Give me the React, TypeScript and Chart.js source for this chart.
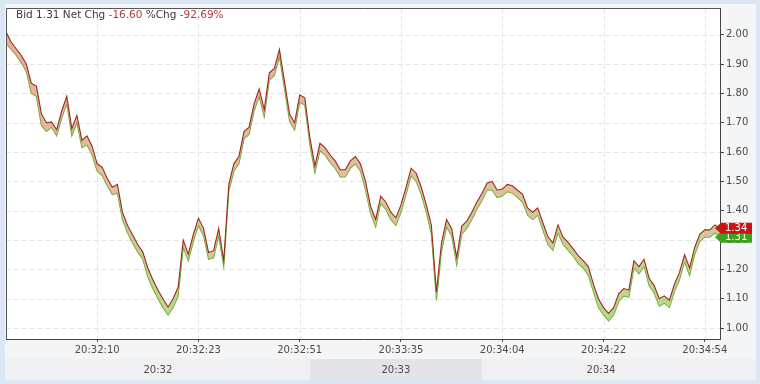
import React, { useEffect, useRef } from "react";
import { Chart, registerables } from "chart.js";

Chart.register(...registerables);

// Ask (upper, red) and Bid (lower, green) prices, one value per sample
const askValues = [
  2.01, 1.975, 1.952, 1.93, 1.9, 1.835, 1.825, 1.73, 1.7, 1.703,
  1.676, 1.74, 1.79, 1.68, 1.725, 1.64, 1.655, 1.62, 1.56, 1.548,
  1.51, 1.48, 1.49, 1.395, 1.35, 1.318, 1.285, 1.26, 1.205, 1.165,
  1.13, 1.1, 1.072, 1.1, 1.14, 1.3, 1.252, 1.32, 1.375, 1.34,
  1.258, 1.264, 1.34, 1.23, 1.49, 1.56, 1.585, 1.67, 1.685, 1.765,
  1.815, 1.745, 1.87, 1.885, 1.95, 1.84, 1.73, 1.7, 1.795, 1.785,
  1.65, 1.553, 1.63, 1.615, 1.59, 1.57, 1.54, 1.54, 1.57, 1.585,
  1.56, 1.5, 1.415, 1.37, 1.45, 1.43, 1.395, 1.376, 1.42, 1.48,
  1.545, 1.528, 1.48, 1.421, 1.35, 1.123, 1.29, 1.37, 1.34, 1.241,
  1.348, 1.365, 1.395, 1.43, 1.46, 1.494, 1.5, 1.47, 1.474, 1.49,
  1.485, 1.47, 1.457, 1.41, 1.395, 1.41, 1.36, 1.312, 1.29, 1.352,
  1.31, 1.292, 1.27, 1.247, 1.23, 1.21, 1.15, 1.1, 1.07, 1.05,
  1.07, 1.118, 1.135, 1.13, 1.23, 1.21, 1.235, 1.17, 1.145, 1.1,
  1.11, 1.095, 1.15, 1.19, 1.25, 1.205, 1.275, 1.32, 1.335, 1.335,
  1.352, 1.34,
];

const bidValues = [
  1.97, 1.95, 1.93, 1.905, 1.875, 1.8, 1.79, 1.69, 1.67, 1.685,
  1.655, 1.715, 1.765, 1.655, 1.7, 1.615, 1.625, 1.59, 1.535, 1.52,
  1.485, 1.455, 1.46, 1.37, 1.325, 1.29, 1.26, 1.235, 1.175, 1.135,
  1.1, 1.07, 1.045, 1.07, 1.11, 1.275, 1.23, 1.295, 1.35, 1.315,
  1.235, 1.24, 1.315, 1.21, 1.465, 1.535, 1.56, 1.645, 1.66, 1.74,
  1.79, 1.72, 1.845, 1.86, 1.925, 1.815, 1.705, 1.675, 1.77, 1.76,
  1.625, 1.53, 1.605, 1.59, 1.565, 1.545, 1.515, 1.515, 1.545, 1.56,
  1.535, 1.47, 1.39, 1.345, 1.425, 1.405, 1.37, 1.35, 1.395, 1.455,
  1.52, 1.5, 1.455, 1.395, 1.32, 1.095, 1.26, 1.345, 1.315, 1.215,
  1.32, 1.34, 1.37, 1.405, 1.435, 1.47, 1.47, 1.445, 1.45, 1.465,
  1.46, 1.445, 1.43, 1.385, 1.37, 1.385, 1.335, 1.285, 1.265, 1.325,
  1.285, 1.265, 1.245, 1.22, 1.205, 1.18, 1.125, 1.07, 1.045, 1.025,
  1.045, 1.09, 1.11, 1.105, 1.205, 1.185, 1.21, 1.145, 1.12, 1.075,
  1.085, 1.07, 1.125, 1.165, 1.225, 1.18, 1.25, 1.295, 1.31, 1.31,
  1.325, 1.31,
];

const tickIndices = [18, 38, 58, 78, 98, 118, 138];
const tickLabels = ["20:32:10", "20:32:23", "20:32:51", "20:33:35", "20:34:04", "20:34:22", "20:34:54"];
const minuteStarts = [0, 60, 94];
const minuteLabels = ["20:32", "20:33", "20:34"];
const headerParts: [string, string][] = [
  ["Bid 1.31 Net Chg ", "#3a3a3a"],
  ["-16.60", "#b23a3a"],
  [" %Chg ", "#3a3a3a"],
  ["-92.69%", "#b23a3a"],
];
const lastAskLabel = "1.34";
const lastBidLabel = "1.31";

const FONT = '"DejaVu Sans", sans-serif';

const framePlugin = {
  id: "frame",
  beforeDraw(chart: any) {
    const { ctx, chartArea: ca, width, height } = chart;
    const xs = chart.scales.x;
    ctx.save();
    ctx.fillStyle = "#dae6f3";
    ctx.fillRect(0, 0, width, height);
    ctx.fillStyle = "#f4f5f7";
    ctx.fillRect(5, 4, 751, 376);
    const bandTop = 359;
    const bandBottom = 380;
    ctx.font = "10px " + FONT;
    ctx.textAlign = "center";
    ctx.textBaseline = "middle";
    minuteStarts.forEach((s, i) => {
      const x0 = i === 0 ? 5 : xs.getPixelForValue(s);
      const x1 = i === minuteStarts.length - 1 ? 756 : xs.getPixelForValue(minuteStarts[i + 1]);
      ctx.fillStyle = i % 2 === 0 ? "#eef0f2" : "#e2e4e7";
      ctx.fillRect(x0, bandTop, x1 - x0, bandBottom - bandTop);
      ctx.fillStyle = "#4a4a4a";
      const cx = (Math.max(x0, ca.left) + Math.min(x1, ca.right)) / 2;
      ctx.fillText(minuteLabels[i], cx, 370);
    });
    ctx.fillStyle = "#ffffff";
    ctx.fillRect(ca.left, ca.top, ca.right - ca.left, ca.bottom - ca.top);
    ctx.restore();
  },
  beforeDatasetsDraw(chart: any) {
    const { ctx, chartArea: ca } = chart;
    const xs = chart.scales.x;
    const ys = chart.scales.y;
    ctx.save();
    ctx.strokeStyle = "#e4e4e4";
    ctx.lineWidth = 1;
    ctx.setLineDash([5, 3]);
    ys.ticks.forEach((t: any) => {
      const y = Math.round(ys.getPixelForValue(t.value)) + 0.5;
      ctx.beginPath();
      ctx.moveTo(ca.left, y);
      ctx.lineTo(ca.right, y);
      ctx.stroke();
    });
    tickIndices.forEach((v) => {
      const x = Math.round(xs.getPixelForValue(v)) + 0.5;
      ctx.beginPath();
      ctx.moveTo(x, ca.top);
      ctx.lineTo(x, ca.bottom);
      ctx.stroke();
    });
    ctx.restore();
  },
  afterDatasetsDraw(chart: any) {
    const { ctx, chartArea: ca } = chart;
    const ys = chart.scales.y;
    ctx.save();
    // frame left & top
    ctx.strokeStyle = "#555";
    ctx.lineWidth = 1;
    ctx.beginPath();
    ctx.moveTo(ca.left + 0.5, ca.bottom);
    ctx.lineTo(ca.left + 0.5, ca.top + 0.5);
    ctx.lineTo(ca.right, ca.top + 0.5);
    ctx.stroke();
    // header
    ctx.font = "10.5px " + FONT;
    ctx.textBaseline = "middle";
    ctx.textAlign = "left";
    let x = 16;
    headerParts.forEach(([t, c]) => {
      ctx.fillStyle = c;
      ctx.fillText(t, x, 15);
      x += ctx.measureText(t).width;
    });
    // price flags
    const flags: [number, string, string][] = [
      [bidValues[bidValues.length - 1], lastBidLabel, "#3f9f1f"],
      [askValues[askValues.length - 1], lastAskLabel, "#c81414"],
    ];
    flags.forEach(([v, label, color]) => {
      const yc = ys.getPixelForValue(v);
      const l = ca.right - 5;
      ctx.fillStyle = color;
      ctx.beginPath();
      ctx.moveTo(l, yc);
      ctx.lineTo(l + 6, yc - 5.5);
      ctx.lineTo(l + 37, yc - 5.5);
      ctx.lineTo(l + 37, yc + 5.5);
      ctx.lineTo(l + 6, yc + 5.5);
      ctx.closePath();
      ctx.fill();
      ctx.fillStyle = "#ffffff";
      ctx.font = "10px " + FONT;
      ctx.textAlign = "left";
      ctx.fillText(label, ca.right + 5, yc + 0.5);
    });
    ctx.restore();
  },
};

export default function App() {
  const canvasRef = useRef<HTMLCanvasElement | null>(null);

  useEffect(() => {
    const canvas = canvasRef.current;
    if (!canvas) return;
    const chart = new Chart(canvas, {
      type: "line",
      data: {
        datasets: [
          {
            label: "Ask",
            data: askValues.map((v, i) => ({ x: i, y: v })),
            borderColor: "#9b2a1c",
            borderWidth: 1.1,
            pointRadius: 0,
            tension: 0,
            fill: "+1",
            backgroundColor: (c: any) => {
              const area = c.chart.chartArea;
              if (!area) return "rgba(200,170,120,0.6)";
              const g = c.chart.ctx.createLinearGradient(0, area.top, 0, area.bottom);
              g.addColorStop(0, "rgba(228,140,120,0.75)");
              g.addColorStop(0.5, "rgba(210,165,120,0.7)");
              g.addColorStop(1, "rgba(150,210,100,0.75)");
              return g;
            },
          },
          {
            label: "Bid",
            data: bidValues.map((v, i) => ({ x: i, y: v })),
            borderColor: "#5ea82c",
            borderWidth: 1.1,
            pointRadius: 0,
            tension: 0,
            fill: false,
          },
        ],
      },
      options: {
        animation: false,
        responsive: false,
        maintainAspectRatio: false,
        devicePixelRatio: 1,
        layout: { padding: { left: 6, top: 5, right: 0, bottom: 0 } },
        plugins: {
          legend: { display: false },
          tooltip: { enabled: false },
        },
        scales: {
          x: {
            type: "linear",
            min: 0,
            max: askValues.length - 1,
            afterBuildTicks: (scale: any) => {
              scale.ticks = tickIndices.map((v) => ({ value: v }));
            },
            afterFit: (scale: any) => {
              scale.height = 45;
            },
            ticks: {
              autoSkip: false,
              maxRotation: 0,
              padding: 2,
              color: "#4a4a4a",
              font: { family: FONT, size: 10 },
              callback: (v: any) => {
                const k = tickIndices.indexOf(Number(v));
                return k >= 0 ? tickLabels[k] : "";
              },
            },
            grid: { drawOnChartArea: false, drawTicks: true, tickLength: 3, tickColor: "#444" },
            border: { display: true, color: "#444", width: 1 },
          },
          y: {
            type: "linear",
            position: "right",
            min: 0.963,
            max: 2.091,
            afterFit: (scale: any) => {
              scale.width = 40;
            },
            ticks: {
              stepSize: 0.1,
              includeBounds: false,
              padding: 2,
              color: "#4a4a4a",
              font: { family: FONT, size: 10 },
              callback: (v: any) => Number(v).toFixed(2),
            },
            grid: { drawOnChartArea: false, drawTicks: true, tickLength: 4, tickColor: "#444" },
            border: { display: true, color: "#444", width: 1 },
          },
        },
      },
      plugins: [framePlugin],
    } as any);
    return () => chart.destroy();
  }, []);

  return (
    <div style={{ position: "fixed", left: 0, top: 0, width: 760, height: 384 }}>
      <canvas ref={canvasRef} width={760} height={384} style={{ display: "block", width: 760, height: 384 }} />
    </div>
  );
}
